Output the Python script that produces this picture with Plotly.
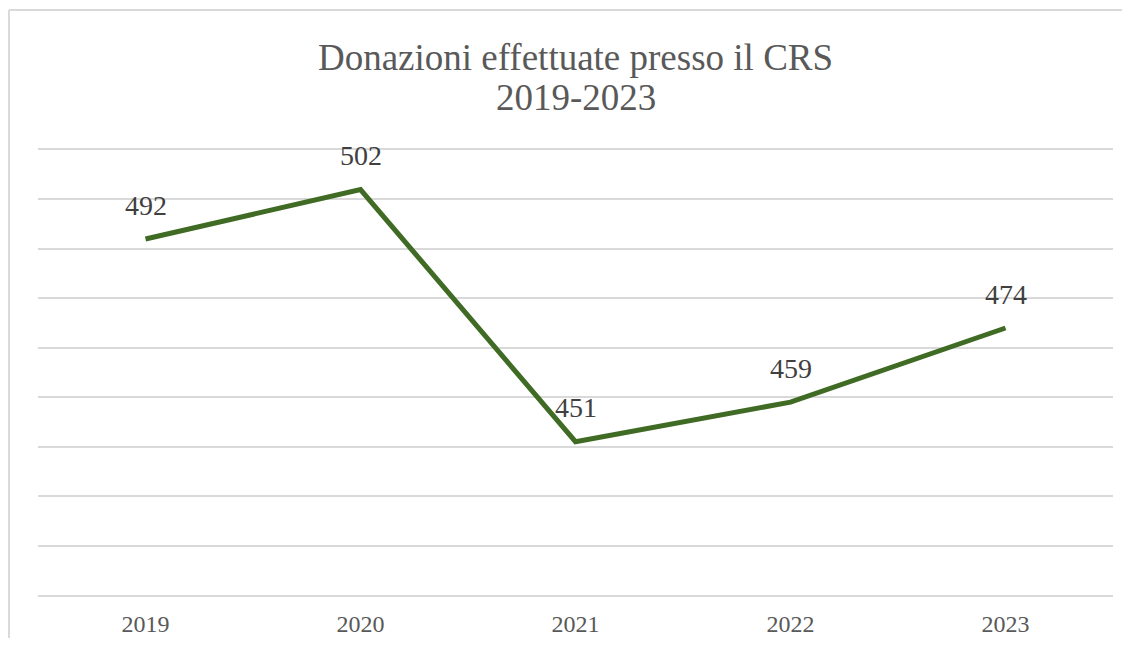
import plotly.graph_objects as go

# data
years = ["2019", "2020", "2021", "2022", "2023"]
donations = [492, 502, 451, 459, 474]

LINE_COLOR = "#406b24"
SERIF = "Liberation Serif, Times New Roman, serif"
BORDER = "#d9d9d9"

fig = go.Figure()

fig.add_trace(go.Scatter(
    x=years,
    y=donations,
    mode="lines",
    line=dict(color=LINE_COLOR, width=5),
    hoverinfo="x+y",
    showlegend=False,
))

# data labels above each point
for i, val in enumerate(donations):
    fig.add_annotation(
        x=i, y=val, xref="x", yref="y", text=str(val),
        showarrow=False, yshift=34,
        font=dict(family=SERIF, size=28, color="#404040"),
    )

# second title line
fig.add_annotation(
    x=0.5, y=1.117, xref="paper", yref="paper",
    text="2019-2023", showarrow=False, yanchor="middle",
    font=dict(family=SERIF, size=37, color="#595959"),
)

# chart-area border (only left and top edges are visible in the picture)
fig.add_shape(type="line", xref="paper", yref="paper",
              x0=-0.027, x1=-0.027, y0=-0.2, y1=1.3146,
              line=dict(color=BORDER, width=2), layer="below")
fig.add_shape(type="line", xref="paper", yref="paper",
              x0=-0.027, x1=1.02, y0=1.3146, y1=1.3146,
              line=dict(color=BORDER, width=2), layer="below")

fig.update_layout(
    width=1114,
    height=630,
    margin=dict(l=30, r=9, t=142, b=43, autoexpand=False),
    paper_bgcolor="white",
    plot_bgcolor="white",
    title=dict(
        text="Donazioni effettuate presso il CRS",
        xref="paper", x=0.5, xanchor="center",
        y=0.922, yanchor="middle",
        font=dict(family=SERIF, size=37, color="#595959"),
    ),
    xaxis=dict(
        type="category",
        range=[-0.5, 4.5],
        automargin=False,
        showgrid=False,
        showline=True,
        mirror=True,
        linecolor=BORDER,
        linewidth=2,
        ticks="",
        ticklabelstandoff=6,
        tickfont=dict(family=SERIF, size=24, color="#595959"),
        fixedrange=True,
    ),
    yaxis=dict(
        range=[420, 510],
        dtick=10,
        automargin=False,
        showgrid=True,
        gridcolor=BORDER,
        gridwidth=2,
        showticklabels=False,
        zeroline=False,
        fixedrange=True,
    ),
)

fig.write_html("out.html")
